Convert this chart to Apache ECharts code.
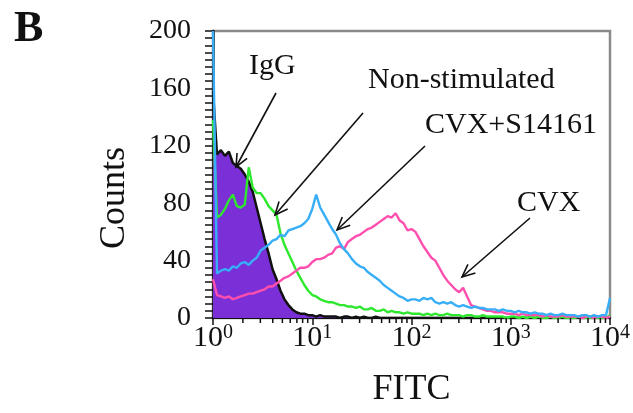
<!DOCTYPE html>
<html><head><meta charset="utf-8">
<script src="https://cdn.jsdelivr.net/npm/echarts@6/dist/echarts.min.js"></script>
<style>html,body{margin:0;padding:0;background:#fff}#c{width:633px;height:413px}</style>
</head><body><div id="c"></div>
<script>
// Histogram channels: one bin every 0.04 decade, starting at 10^0
const BIN_DECADES = 0.04;

const igg = [158,114,117,113,116,108,106,104,100,95,
  88,77,66,55,45,34,27,19,13,9,
  6,4,3,3,2,2,1,2,1,1,
  1,1,0,1,1,0,1,0,1,0,
  0,1,0,0,0,0,0,0,0,0,
  0,0,0,0,0,0,0,0,0,0,
  0,0,0,0,0,0,0,0,0,0,
  0,0,0,0,0,0,0,0,0,0,
  0,0,0,0,0,0,0,0,0,0,
  0,0,0,0,0,0,0,0,0,0,0];

const nonStimulated = [138,70,72,76,82,86,78,77,79,105,
  91,87,87,83,78,75,72,59,51,45,
  39,33,28,23,19,16,15,13,12,11,
  11,10,9,9,8,8,7,8,6,6,
  7,5,5,6,4,5,4,4,3,4,
  3,3,3,2,3,2,3,2,2,3,
  2,2,2,1,2,2,1,1,2,1,
  1,1,1,1,0,1,1,0,1,0,
  1,0,1,0,0,1,0,0,1,0,
  0,0,1,0,0,0,1,0,0,0,2];

const cvxS14161 = [200,31,33,34,33,36,35,38,39,37,
  40,42,47,49,51,54,55,58,57,61,
  62,63,64,66,69,76,86,77,72,67,
  62,58,52,48,45,41,38,36,35,32,
  30,28,26,23,21,19,17,15,14,12,
  13,13,12,14,13,14,11,10,11,10,
  11,9,8,9,8,7,8,7,7,6,
  6,6,5,6,5,5,4,5,4,4,
  3,4,3,3,2,3,2,2,3,2,
  2,2,1,2,2,1,2,1,2,2,14];

const cvx = [27,16,15,14,15,13,14,15,16,17,
  17,18,19,20,22,22,24,26,28,29,
  31,33,35,35,36,39,41,41,42,44,
  45,49,50,48,53,55,57,58,60,62,
  63,65,67,69,71,70,73,68,66,61,
  62,60,55,50,46,42,40,35,30,26,
  23,20,18,21,15,9,8,7,6,5,
  5,4,4,4,3,3,3,2,3,2,
  2,2,2,1,2,1,1,1,2,1,
  1,1,1,0,1,1,0,1,1,0,1];

const xMinorTicks = [2,3,4,5,6,7,8,9,20,30,40,50,60,70,80,90,
  200,300,400,500,600,700,800,900,2000,3000,4000,5000,6000,7000,8000,9000];

const labels = ['IgG','Non-stimulated','CVX+S14161','CVX'];

const toXY = arr => arr.map((v,i) => [Math.pow(10, i*BIN_DECADES), v]);

const SERIF = 'Liberation Serif, Times New Roman, serif';

function arrow(x1,y1,x2,y2){
  const a = Math.atan2(y2-y1, x2-x1), L = 14, w = 0.42;
  return [
    {type:'line', shape:{x1,y1,x2,y2}, style:{stroke:'#111', lineWidth:1.6}, z:100},
    {type:'polyline', shape:{points:[[x2-L*Math.cos(a-w), y2-L*Math.sin(a-w)],[x2,y2],[x2-L*Math.cos(a+w), y2-L*Math.sin(a+w)]]},
      style:{stroke:'#111', fill:null, lineWidth:1.6}, z:100}
  ];
}
function txt(s,x,y,size,extra){
  return Object.assign({type:'text', x, y, z:100,
    style:Object.assign({text:s, fill:'#111', font:`${size}px ${SERIF}`, textAlign:'left', textVerticalAlign:'middle'}, extra||{})});
}

const chart = echarts.init(document.getElementById('c'), null, {renderer:'canvas'});
chart.setOption({
  animation:false,
  backgroundColor:'#fff',
  grid:{left:213, right:23, top:31, bottom:94, show:true, borderColor:'#8a8a8a', borderWidth:2.5, backgroundColor:'transparent'},
  xAxis:{
    type:'log', logBase:10, min:1, max:10000,
    name:'FITC', nameLocation:'middle', nameGap:54,
    nameTextStyle:{fontFamily:SERIF, fontSize:36, color:'#111'},
    axisLine:{show:true, lineStyle:{color:'#111', width:2}},
    axisTick:{show:true, inside:false, length:7, lineStyle:{color:'#111', width:1.5}},
    minorTick:{show:false},
    splitLine:{show:false},
    axisLabel:{
      margin:5, color:'#111', fontFamily:SERIF, fontSize:30,
      formatter: v => '10{s|' + Math.round(Math.log10(v)) + '}',
      rich:{s:{fontFamily:SERIF, fontSize:20, color:'#111', verticalAlign:'top'}}
    }
  },
  yAxis:{
    type:'value', min:0, max:200, interval:40,
    axisLine:{show:true, lineStyle:{color:'#111', width:2.5}},
    axisTick:{show:true, inside:false, length:8, lineStyle:{color:'#111', width:1.5}},
    minorTick:{show:true, splitNumber:8, length:8, lineStyle:{color:'#111', width:1.5}},
    splitLine:{show:false}, minorSplitLine:{show:false},
    axisLabel:{margin:22, color:'#111', fontFamily:SERIF, fontSize:28}
  },
  title:{text:'B', left:9, top:3, textStyle:{fontFamily:SERIF, fontSize:44, fontWeight:'bold', color:'#111'}},
  series:[
    {name:labels[0], type:'line', data:toXY(igg), showSymbol:false, symbol:'none', z:2,
      lineStyle:{color:'#111', width:2.5}, areaStyle:{color:'#7b2fd6', opacity:1, origin:'start'}},
    {name:labels[1], type:'line', data:toXY(nonStimulated), showSymbol:false, symbol:'none', z:3,
      lineStyle:{color:'#2ee82e', width:2.4}},
    {name:labels[3], type:'line', data:toXY(cvx), showSymbol:false, symbol:'none', z:4,
      lineStyle:{color:'#ff4fae', width:2.4}},
    {name:labels[2], type:'line', data:toXY(cvxS14161), showSymbol:false, symbol:'none', z:5,
      lineStyle:{color:'#38aef8', width:2.4}},
    {type:'custom', silent:true, clip:false, z:6, data:xMinorTicks.map(v=>[v,0]),
      renderItem:(params, api) => {
        const p = api.coord([api.value(0), 0]);
        return {type:'line', shape:{x1:p[0], y1:p[1], x2:p[0], y2:p[1]+5}, style:{stroke:'#111', lineWidth:1.5}};
      }}
  ],
  graphic:[
    {type:'text', x:115, y:198, rotation:Math.PI/2, z:100,
      style:{text:'Counts', fill:'#111', font:`36px ${SERIF}`, textAlign:'center', textVerticalAlign:'middle'}},
    txt(labels[0], 249, 66, 30),
    txt(labels[1], 368, 80, 30),
    txt(labels[2], 425, 125, 30),
    txt(labels[3], 517, 203, 30),
    ...arrow(276,93,236,167),
    ...arrow(363,113,275,215),
    ...arrow(425,146,337,230),
    ...arrow(530,218,462,277)
  ]
});
</script></body></html>
